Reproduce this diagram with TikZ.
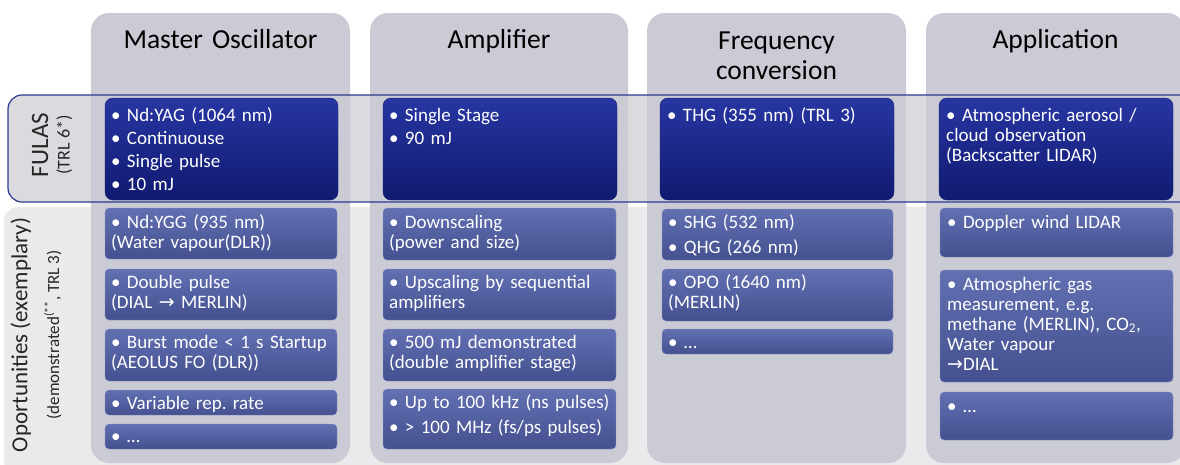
\documentclass[tikz,border=0pt]{standalone}
\usepackage{fontspec}
\setmainfont{Carlito}
\newfontfamily\arrowfont{DejaVu Sans}
\frenchspacing

\definecolor{colgrey}{RGB}{203,203,213}
\definecolor{bandgrey}{RGB}{218,218,223}
\definecolor{lowgrey}{RGB}{234,234,237}
\definecolor{bandline}{RGB}{43,58,142}
\definecolor{fulastop}{RGB}{40,54,162}
\definecolor{fulasbot}{RGB}{16,26,112}
\definecolor{opptop}{RGB}{98,112,178}
\definecolor{oppbot}{RGB}{68,80,143}
\definecolor{oppline}{RGB}{140,150,204}

\tikzset{
  colbg/.style={fill=colgrey, rounded corners=18pt},
  fulasbox/.style={top color=fulastop, bottom color=fulasbot, draw=fulasbot, rounded corners=8pt},
  oppbox/.style={top color=opptop, bottom color=oppbot, draw=oppline, rounded corners=4pt},
  head/.style={font=\fontsize{27.5}{30}\selectfont, text width=250pt, align=center, anchor=base, inner sep=0pt},
  boxtxt/.style={font=\fontsize{19}{20}\selectfont, text=white, text width=228pt, align=left, anchor=base west, inner sep=0pt},
  sidetxt/.style={rotate=90, align=center, inner sep=0pt, text=black!85},
}

\begin{document}
\begin{tikzpicture}[x=1pt, y=-1pt]
\clip (0,0) rectangle (1180,464);

% bands behind the columns
\path[fill=lowgrey, rounded corners=14pt] (4,207) rectangle (1195,475);
\path[fill=bandgrey, rounded corners=14pt] (8,95) rectangle (1195,202);

% columns
\path[colbg] (91,13) rectangle (350,463);
\path[colbg] (370,13) rectangle (628,463);
\path[colbg] (647,13) rectangle (906,463);
\path[colbg] (926,13) rectangle (1185,463);

\draw[bandline, line width=1.2pt, rounded corners=14pt] (8,95) rectangle (1195,202);

\node[head] (mo) at (220.5,48) {Master Oscillator};
\node[head] (amp) at (499,48) {Amplifier};
\node[head] (fc) at (776.5,49) {Frequency\\conversion};
\node[head] (app) at (1055.5,48) {Application};

\node[sidetxt] (fulas) at (52,145) {{\fontsize{25}{28}\selectfont FULAS}\\[7pt]{\fontsize{18}{20}\selectfont (TRL 6*)}};
\node[sidetxt] (opp) at (36,335) {{\fontsize{23}{26}\selectfont Oportunities (exemplary)}\\[12pt]{\fontsize{17}{20}\selectfont (demonstrated\textsuperscript{(**}, TRL 3)}};

% FULAS row
\path[fulasbox] (105,98) rectangle (338,200);
\path[fulasbox] (383,98) rectangle (617,200);
\path[fulasbox] (660,98) rectangle (894,200);
\path[fulasbox] (939,98) rectangle (1173,200);

\node[boxtxt] (mo0) at (111,121) {\textbullet\ Nd:YAG (1064 nm)\\[3pt]\textbullet\ Continuouse\\[3pt]\textbullet\ Single pulse\\[3pt]\textbullet\ 10 mJ};
\node[boxtxt] (amp0) at (389,121) {\textbullet\ Single Stage\\[3pt]\textbullet\ 90 mJ};
\node[boxtxt] (fc0) at (667,121) {\textbullet\ THG (355 nm) (TRL 3)};
\node[boxtxt] (app0) at (946,121) {\textbullet\ Atmospheric aerosol /\\cloud observation\\(Backscatter LIDAR)};

% opportunities, master oscillator
\path[oppbox] (105,208) rectangle (337,259);
\path[oppbox] (105,269) rectangle (337,320);
\path[oppbox] (105,329) rectangle (337,381);
\path[oppbox] (105,390) rectangle (337,415);
\path[oppbox] (105,424) rectangle (337,449);
\node[boxtxt] (mo1) at (111,228) {\textbullet\ Nd:YGG (935 nm)\\(Water vapour(DLR))};
\node[boxtxt] (mo2) at (111,288) {\textbullet\ Double pulse\\(DIAL {\arrowfont →} MERLIN)};
\node[boxtxt] (mo3) at (111,348) {\textbullet\ Burst mode < 1 s Startup\\(AEOLUS FO (DLR))};
\node[boxtxt] (mo4) at (111,409) {\textbullet\ Variable rep. rate};
\node[boxtxt] (mo5) at (111,442) {\textbullet\ …};

% opportunities, amplifier
\path[oppbox] (383,208) rectangle (616,260);
\path[oppbox] (383,269) rectangle (616,320);
\path[oppbox] (383,329) rectangle (616,381);
\path[oppbox] (383,389) rectangle (616,449);
\node[boxtxt] (amp1) at (389,228) {\textbullet\ Downscaling\\(power and size)};
\node[boxtxt] (amp2) at (389,288) {\textbullet\ Upscaling by sequential\\amplifiers};
\node[boxtxt] (amp3) at (389,348) {\textbullet\ 500 mJ demonstrated\\(double amplifier stage)};
\node[boxtxt] (amp4) at (389,408) {\textbullet\ Up to 100 kHz (ns pulses)\\[5pt]\textbullet\ > 100 MHz (fs/ps pulses)};

% opportunities, frequency conversion
\path[oppbox] (662,209) rectangle (893,260);
\path[oppbox] (662,269) rectangle (893,321);
\path[oppbox] (662,329) rectangle (893,354);
\node[boxtxt] (fc1) at (668,228) {\textbullet\ SHG (532 nm)\\[5pt]\textbullet\ QHG (266 nm)};
\node[boxtxt] (fc2) at (668,288) {\textbullet\ OPO (1640 nm)\\(MERLIN)};
\node[boxtxt] (fc3) at (668,348) {\textbullet\ …};

% opportunities, application
\path[oppbox] (940,208) rectangle (1173,257);
\path[oppbox] (940,270) rectangle (1173,382);
\path[oppbox] (940,392) rectangle (1173,440);
\node[boxtxt] (app1) at (947,228) {\textbullet\ Doppler wind LIDAR};
\node[boxtxt] (app2) at (947,290) {\textbullet\ Atmospheric gas\\measurement, e.g.\\methane (MERLIN), CO\textsubscript{2},\\Water vapour\\{\arrowfont →}DIAL};
\node[boxtxt] (app3) at (947,412) {\textbullet\ …};
\end{tikzpicture}
\end{document}
